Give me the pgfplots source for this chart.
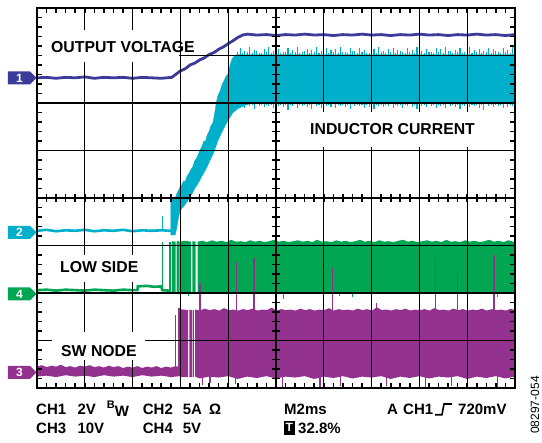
\documentclass[border=0pt]{standalone}
\usepackage{pgfplots}
\pgfplotsset{compat=1.18}
\usepackage{fontspec}
\setmainfont{Liberation Sans}
\definecolor{chone}{HTML}{3B3B9B}
\definecolor{chtwo}{HTML}{00AFC9}
\definecolor{chthree}{HTML}{93318F}
\definecolor{chfour}{HTML}{00A651}
\newcommand{\lf}{\fontsize{15.8bp}{18bp}\selectfont\bfseries}
\newcommand{\bt}{\fontsize{15bp}{17bp}\selectfont\bfseries}

\begin{document}
\begin{tikzpicture}
\path[use as bounding box] (-37bp,-55bp) rectangle (505bp,388bp);
\begin{axis}[
  at={(0,0)}, anchor=south west,
  scale only axis, width=478bp, height=380bp,
  xmin=0, xmax=10, ymin=0, ymax=8,
  xtick={0,...,10}, ytick={0,...,8},
  xticklabels={}, yticklabels={},
  major tick length=0pt,
  grid=major, major grid style={black, line width=1.3bp},
  axis line style={black, line width=2.2bp},
  axis on top, unbounded coords=jump,
]
% ---- CH2 inductor current
\addplot[chtwo, line width=2.6bp] coordinates {
(0,3.31)(0.2,3.33)(0.4,3.30)(0.6,3.32)(0.8,3.31)(1.0,3.33)(1.2,3.30)(1.4,3.32)
(1.6,3.31)(1.8,3.33)(2.0,3.30)(2.2,3.32)(2.4,3.31)(2.6,3.32)(2.80,3.31)};
\addplot[chtwo, line width=0.9bp] coordinates {(2.63,3.30)(2.63,3.62)};
\addplot[fill=chtwo, draw=chtwo, line width=0.4bp] coordinates {
(2.80,3.96)(2.87,3.98)(2.90,4.02)(2.94,4.12)(2.99,4.22)(3.03,4.28)(3.07,4.36)(3.10,4.34)
(3.14,4.46)(3.18,4.52)(3.22,4.60)(3.26,4.66)(3.30,4.78)(3.34,4.84)(3.38,4.93)(3.41,5.01)
(3.45,5.08)(3.49,5.20)(3.52,5.18)(3.56,5.32)(3.60,5.40)(3.64,5.52)(3.68,5.58)(3.72,5.80)
(3.76,6.05)(3.79,6.17)(3.83,6.25)(3.87,6.38)(3.91,6.46)(3.95,6.55)(4.00,6.62)(4.04,6.80)
(4.08,6.92)(4.12,6.98)(4.18,7.02)(10,7.02)
(10,6.00)(4.50,6.00)(4.35,5.95)(4.20,5.88)(4.10,5.80)(4.00,5.64)(3.95,5.55)(3.90,5.45)
(3.85,5.35)(3.79,5.22)(3.74,5.08)(3.68,4.92)(3.62,4.80)(3.56,4.66)(3.50,4.55)(3.45,4.46)
(3.41,4.38)(3.35,4.28)(3.30,4.20)(3.25,4.10)(3.20,4.02)(3.14,3.92)(3.08,3.84)(3.03,3.78)
(2.99,3.72)(2.96,3.60)(2.93,3.40)(2.89,3.22)(2.80,3.22)} -- cycle;
% upper noise spikes
\addplot[chtwo, line width=1.1bp] coordinates {
(4.20,7)(4.20,7.07)(4.20,nan)(4.25,7)(4.25,7.15)(4.25,nan)(4.30,7)(4.30,7.05)(4.30,nan)(4.35,7)(4.35,7.09)(4.35,nan)
(4.40,7)(4.40,7.08)(4.40,nan)(4.45,7)(4.45,7.17)(4.45,nan)(4.50,7)(4.50,7.06)(4.50,nan)(4.55,7)(4.55,7.12)(4.55,nan)
(4.60,7)(4.60,7.09)(4.60,nan)(4.65,7)(4.65,7.06)(4.65,nan)(4.70,7)(4.70,7.05)(4.70,nan)(4.75,7)(4.75,7.14)(4.75,nan)
(4.80,7)(4.80,7.07)(4.80,nan)(4.85,7)(4.85,7.18)(4.85,nan)(4.90,7)(4.90,7.06)(4.90,nan)(4.95,7)(4.95,7.10)(4.95,nan)
(5.00,7)(5.00,7.08)(5.00,nan)(5.05,7)(5.05,7.13)(5.05,nan)(5.10,7)(5.10,7.05)(5.10,nan)(5.15,7)(5.15,7.08)(5.15,nan)
(5.20,7)(5.20,7.07)(5.20,nan)(5.25,7)(5.25,7.16)(5.25,nan)(5.30,7)(5.30,7.05)(5.30,nan)(5.35,7)(5.35,7.11)(5.35,nan)
(5.40,7)(5.40,7.08)(5.40,nan)(5.45,7)(5.45,7.17)(5.45,nan)(5.50,7)(5.50,7.06)(5.50,nan)(5.55,7)(5.55,7.07)(5.55,nan)
(5.60,7)(5.60,7.09)(5.60,nan)(5.65,7)(5.65,7.14)(5.65,nan)(5.70,7)(5.70,7.05)(5.70,nan)(5.75,7)(5.75,7.12)(5.75,nan)
(5.80,7)(5.80,7.07)(5.80,nan)(5.85,7)(5.85,7.18)(5.85,nan)(5.90,7)(5.90,7.06)(5.90,nan)(5.95,7)(5.95,7.09)(5.95,nan)
(6.00,7)(6.00,7.08)(6.00,nan)(6.05,7)(6.05,7.15)(6.05,nan)(6.10,7)(6.10,7.05)(6.10,nan)(6.15,7)(6.15,7.11)(6.15,nan)
(6.20,7)(6.20,7.07)(6.20,nan)(6.25,7)(6.25,7.13)(6.25,nan)(6.30,7)(6.30,7.05)(6.30,nan)(6.35,7)(6.35,7.17)(6.35,nan)
(6.40,7)(6.40,7.08)(6.40,nan)(6.45,7)(6.45,7.08)(6.45,nan)(6.50,7)(6.50,7.06)(6.50,nan)(6.55,7)(6.55,7.15)(6.55,nan)
(6.60,7)(6.60,7.09)(6.60,nan)(6.65,7)(6.65,7.10)(6.65,nan)(6.70,7)(6.70,7.05)(6.70,nan)(6.75,7)(6.75,7.16)(6.75,nan)
(6.80,7)(6.80,7.07)(6.80,nan)(6.85,7)(6.85,7.12)(6.85,nan)(6.90,7)(6.90,7.06)(6.90,nan)(6.95,7)(6.95,7.06)(6.95,nan)
(7.00,7)(7.00,7.08)(7.00,nan)(7.05,7)(7.05,7.14)(7.05,nan)(7.10,7)(7.10,7.05)(7.10,nan)(7.15,7)(7.15,7.18)(7.15,nan)
(7.20,7)(7.20,7.07)(7.20,nan)(7.25,7)(7.25,7.09)(7.25,nan)(7.30,7)(7.30,7.05)(7.30,nan)(7.35,7)(7.35,7.13)(7.35,nan)
(7.40,7)(7.40,7.08)(7.40,nan)(7.45,7)(7.45,7.16)(7.45,nan)(7.50,7)(7.50,7.06)(7.50,nan)(7.55,7)(7.55,7.11)(7.55,nan)
(7.60,7)(7.60,7.09)(7.60,nan)(7.65,7)(7.65,7.07)(7.65,nan)(7.70,7)(7.70,7.05)(7.70,nan)(7.75,7)(7.75,7.15)(7.75,nan)
(7.80,7)(7.80,7.07)(7.80,nan)(7.85,7)(7.85,7.12)(7.85,nan)(7.90,7)(7.90,7.06)(7.90,nan)(7.95,7)(7.95,7.17)(7.95,nan)
(8.00,7)(8.00,7.08)(8.00,nan)(8.05,7)(8.05,7.10)(8.05,nan)(8.10,7)(8.10,7.05)(8.10,nan)(8.15,7)(8.15,7.14)(8.15,nan)
(8.20,7)(8.20,7.07)(8.20,nan)(8.25,7)(8.25,7.08)(8.25,nan)(8.30,7)(8.30,7.05)(8.30,nan)(8.35,7)(8.35,7.16)(8.35,nan)
(8.40,7)(8.40,7.08)(8.40,nan)(8.45,7)(8.45,7.13)(8.45,nan)(8.50,7)(8.50,7.06)(8.50,nan)(8.55,7)(8.55,7.18)(8.55,nan)
(8.60,7)(8.60,7.09)(8.60,nan)(8.65,7)(8.65,7.09)(8.65,nan)(8.70,7)(8.70,7.05)(8.70,nan)(8.75,7)(8.75,7.12)(8.75,nan)
(8.80,7)(8.80,7.07)(8.80,nan)(8.85,7)(8.85,7.15)(8.85,nan)(8.90,7)(8.90,7.06)(8.90,nan)(8.95,7)(8.95,7.07)(8.95,nan)
(9.00,7)(9.00,7.08)(9.00,nan)(9.05,7)(9.05,7.17)(9.05,nan)(9.10,7)(9.10,7.05)(9.10,nan)(9.15,7)(9.15,7.11)(9.15,nan)
(9.20,7)(9.20,7.07)(9.20,nan)(9.25,7)(9.25,7.14)(9.25,nan)(9.30,7)(9.30,7.05)(9.30,nan)(9.35,7)(9.35,7.10)(9.35,nan)
(9.40,7)(9.40,7.08)(9.40,nan)(9.45,7)(9.45,7.16)(9.45,nan)(9.50,7)(9.50,7.06)(9.50,nan)(9.55,7)(9.55,7.13)(9.55,nan)
(9.60,7)(9.60,7.09)(9.60,nan)(9.65,7)(9.65,7.08)(9.65,nan)(9.70,7)(9.70,7.05)(9.70,nan)(9.75,7)(9.75,7.15)(9.75,nan)
(9.80,7)(9.80,7.07)(9.80,nan)(9.85,7)(9.85,7.12)(9.85,nan)(9.90,7)(9.90,7.06)(9.90,nan)(9.95,7)(9.95,7.17)};
% lower noise spikes
\addplot[chtwo, line width=1.1bp] coordinates {
(4.30,6.02)(4.30,5.95)(4.30,nan)(4.35,6.02)(4.35,5.90)(4.35,nan)(4.40,6.02)(4.40,5.96)(4.40,nan)(4.45,6.02)(4.45,5.93)(4.45,nan)
(4.50,6.02)(4.50,5.95)(4.50,nan)(4.55,6.02)(4.55,5.88)(4.55,nan)(4.60,6.02)(4.60,5.97)(4.60,nan)(4.65,6.02)(4.65,5.94)(4.65,nan)
(4.70,6.02)(4.70,5.95)(4.70,nan)(4.75,6.02)(4.75,5.91)(4.75,nan)(4.80,6.02)(4.80,5.96)(4.80,nan)(4.85,6.02)(4.85,5.93)(4.85,nan)
(4.90,6.02)(4.90,5.95)(4.90,nan)(4.95,6.02)(4.95,5.89)(4.95,nan)(5.00,6.02)(5.00,5.97)(5.00,nan)(5.05,6.02)(5.05,5.93)(5.05,nan)
(5.10,6.02)(5.10,5.95)(5.10,nan)(5.15,6.02)(5.15,5.92)(5.15,nan)(5.20,6.02)(5.20,5.96)(5.20,nan)(5.25,6.02)(5.25,5.86)(5.25,nan)
(5.30,6.02)(5.30,5.95)(5.30,nan)(5.35,6.02)(5.35,5.94)(5.35,nan)(5.40,6.02)(5.40,5.97)(5.40,nan)(5.45,6.02)(5.45,5.90)(5.45,nan)
(5.50,6.02)(5.50,5.95)(5.50,nan)(5.55,6.02)(5.55,5.93)(5.55,nan)(5.60,6.02)(5.60,5.96)(5.60,nan)(5.65,6.02)(5.65,5.91)(5.65,nan)
(5.70,6.02)(5.70,5.95)(5.70,nan)(5.75,6.02)(5.75,5.88)(5.75,nan)(5.80,6.02)(5.80,5.97)(5.80,nan)(5.85,6.02)(5.85,5.93)(5.85,nan)
(5.90,6.02)(5.90,5.95)(5.90,nan)(5.95,6.02)(5.95,5.90)(5.95,nan)(6.00,6.02)(6.00,5.96)(6.00,nan)(6.05,6.02)(6.05,5.94)(6.05,nan)
(6.10,6.02)(6.10,5.95)(6.10,nan)(6.15,6.02)(6.15,5.92)(6.15,nan)(6.20,6.02)(6.20,5.97)(6.20,nan)(6.25,6.02)(6.25,5.89)(6.25,nan)
(6.30,6.02)(6.30,5.95)(6.30,nan)(6.35,6.02)(6.35,5.94)(6.35,nan)(6.40,6.02)(6.40,5.96)(6.40,nan)(6.45,6.02)(6.45,5.91)(6.45,nan)
(6.50,6.02)(6.50,5.95)(6.50,nan)(6.55,6.02)(6.55,5.87)(6.55,nan)(6.60,6.02)(6.60,5.97)(6.60,nan)(6.65,6.02)(6.65,5.93)(6.65,nan)
(6.70,6.02)(6.70,5.95)(6.70,nan)(6.75,6.02)(6.75,5.94)(6.75,nan)(6.80,6.02)(6.80,5.96)(6.80,nan)(6.85,6.02)(6.85,5.90)(6.85,nan)
(6.90,6.02)(6.90,5.95)(6.90,nan)(6.95,6.02)(6.95,5.92)(6.95,nan)(7.00,6.02)(7.00,5.97)(7.00,nan)(7.05,6.02)(7.05,5.88)(7.05,nan)
(7.10,6.02)(7.10,5.95)(7.10,nan)(7.15,6.02)(7.15,5.94)(7.15,nan)(7.20,6.02)(7.20,5.96)(7.20,nan)(7.25,6.02)(7.25,5.91)(7.25,nan)
(7.30,6.02)(7.30,5.95)(7.30,nan)(7.35,6.02)(7.35,5.93)(7.35,nan)(7.40,6.02)(7.40,5.97)(7.40,nan)(7.45,6.02)(7.45,5.89)(7.45,nan)
(7.50,6.02)(7.50,5.95)(7.50,nan)(7.55,6.02)(7.55,5.93)(7.55,nan)(7.60,6.02)(7.60,5.96)(7.60,nan)(7.65,6.02)(7.65,5.90)(7.65,nan)
(7.70,6.02)(7.70,5.95)(7.70,nan)(7.75,6.02)(7.75,5.94)(7.75,nan)(7.80,6.02)(7.80,5.97)(7.80,nan)(7.85,6.02)(7.85,5.92)(7.85,nan)
(7.90,6.02)(7.90,5.95)(7.90,nan)(7.95,6.02)(7.95,5.87)(7.95,nan)(8.00,6.02)(8.00,5.96)(8.00,nan)(8.05,6.02)(8.05,5.94)(8.05,nan)
(8.10,6.02)(8.10,5.95)(8.10,nan)(8.15,6.02)(8.15,5.91)(8.15,nan)(8.20,6.02)(8.20,5.97)(8.20,nan)(8.25,6.02)(8.25,5.93)(8.25,nan)
(8.30,6.02)(8.30,5.95)(8.30,nan)(8.35,6.02)(8.35,5.89)(8.35,nan)(8.40,6.02)(8.40,5.96)(8.40,nan)(8.45,6.02)(8.45,5.94)(8.45,nan)
(8.50,6.02)(8.50,5.95)(8.50,nan)(8.55,6.02)(8.55,5.90)(8.55,nan)(8.60,6.02)(8.60,5.97)(8.60,nan)(8.65,6.02)(8.65,5.94)(8.65,nan)
(8.70,6.02)(8.70,5.95)(8.70,nan)(8.75,6.02)(8.75,5.92)(8.75,nan)(8.80,6.02)(8.80,5.96)(8.80,nan)(8.85,6.02)(8.85,5.88)(8.85,nan)
(8.90,6.02)(8.90,5.95)(8.90,nan)(8.95,6.02)(8.95,5.93)(8.95,nan)(9.00,6.02)(9.00,5.97)(9.00,nan)(9.05,6.02)(9.05,5.91)(9.05,nan)
(9.10,6.02)(9.10,5.95)(9.10,nan)(9.15,6.02)(9.15,5.94)(9.15,nan)(9.20,6.02)(9.20,5.96)(9.20,nan)(9.25,6.02)(9.25,5.90)(9.25,nan)
(9.30,6.02)(9.30,5.95)(9.30,nan)(9.35,6.02)(9.35,5.86)(9.35,nan)(9.40,6.02)(9.40,5.97)(9.40,nan)(9.45,6.02)(9.45,5.93)(9.45,nan)
(9.50,6.02)(9.50,5.95)(9.50,nan)(9.55,6.02)(9.55,5.91)(9.55,nan)(9.60,6.02)(9.60,5.96)(9.60,nan)(9.65,6.02)(9.65,5.94)(9.65,nan)
(9.70,6.02)(9.70,5.95)(9.70,nan)(9.75,6.02)(9.75,5.89)(9.75,nan)(9.80,6.02)(9.80,5.97)(9.80,nan)(9.85,6.02)(9.85,5.92)(9.85,nan)
(9.90,6.02)(9.90,5.95)(9.90,nan)(9.95,6.02)(9.95,5.93)};
% ---- CH4 low side
\addplot[chfour, line width=2.6bp] coordinates {
(0,2.06)(0.2,2.07)(0.4,2.05)(0.6,2.07)(0.8,2.06)(1.0,2.05)(1.2,2.07)(1.4,2.06)(1.6,2.05)
(1.8,2.07)(2.0,2.06)(2.10,2.06)(2.11,2.14)(2.3,2.15)(2.45,2.13)(2.60,2.14)(2.62,2.06)(2.76,2.05)};
\addplot[chfour, line width=1bp] coordinates {(2.62,2.08)(2.62,3.08)};
\addplot[fill=chfour, draw=none] coordinates {(2.76,2.01)(2.76,3.08)(2.80,3.08)(2.80,2.01)} -- cycle;
\addplot[fill=chfour, draw=none] coordinates {(2.82,2.01)(2.82,3.09)(2.90,3.08)(2.90,2.01)} -- cycle;
\addplot[fill=chfour, draw=none] coordinates {(2.92,2.01)(2.92,3.08)(2.97,3.10)(2.97,2.01)} -- cycle;
\addplot[fill=chfour, draw=none] coordinates {(2.98,2.00)(2.98,3.08)(3.10,3.10)(3.22,3.08)(3.22,2.00)} -- cycle;
\addplot[fill=chfour, draw=none] coordinates {(3.25,2.00)(3.25,3.09)(3.32,3.08)(3.32,2.00)} -- cycle;
\addplot[fill=chfour, draw=none] coordinates {
(3.36,2.00)(3.36,3.08)(3.46,3.10)(3.56,3.07)(3.66,3.11)(3.76,3.08)(3.86,3.10)(3.96,3.07)(4.06,3.12)(4.16,3.08)
(4.26,3.09)(4.36,3.07)(4.46,3.11)(4.56,3.08)(4.66,3.10)(4.76,3.07)(4.86,3.09)(4.96,3.12)(5.06,3.08)(5.16,3.10)
(5.26,3.07)(5.36,3.09)(5.46,3.11)(5.56,3.08)(5.66,3.10)(5.76,3.07)(5.86,3.12)(5.96,3.08)(6.06,3.09)(6.16,3.07)
(6.26,3.11)(6.36,3.08)(6.46,3.10)(6.56,3.07)(6.66,3.09)(6.76,3.12)(6.86,3.08)(6.96,3.10)(7.06,3.07)(7.16,3.11)
(7.26,3.08)(7.36,3.09)(7.46,3.07)(7.56,3.10)(7.66,3.12)(7.76,3.08)(7.86,3.10)(7.96,3.07)(8.06,3.09)(8.16,3.11)
(8.26,3.08)(8.36,3.10)(8.46,3.07)(8.56,3.12)(8.66,3.08)(8.76,3.09)(8.86,3.07)(8.96,3.11)(9.06,3.08)(9.16,3.10)
(9.26,3.07)(9.36,3.09)(9.46,3.12)(9.56,3.08)(9.66,3.10)(9.76,3.07)(9.86,3.11)(9.96,3.08)(10.00,3.09)(10.00,2.00)} -- cycle;
\addplot[chfour, line width=1bp] coordinates {
(3.16,2.02)(3.16,1.94)(3.16,nan)(5.15,2.02)(5.15,1.87)(5.15,nan)(6.32,2.02)(6.32,1.94)(6.32,nan)
(6.59,2.02)(6.59,1.92)(6.59,nan)(9.64,2.02)(9.64,1.92)};
% ---- CH3 switch node
\addplot[fill=chthree, draw=none] coordinates {
(0.0,0.45)(0.1,0.48)(0.2,0.44)(0.3,0.47)(0.4,0.45)(0.5,0.49)(0.6,0.44)(0.7,0.46)(0.8,0.43)(0.9,0.47)
(1.0,0.45)(1.1,0.48)(1.2,0.44)(1.3,0.46)(1.4,0.43)(1.5,0.47)(1.6,0.44)(1.7,0.46)(1.8,0.42)(1.9,0.45)
(2.0,0.43)(2.1,0.46)(2.2,0.42)(2.3,0.45)(2.4,0.43)(2.5,0.46)(2.6,0.42)(2.7,0.45)(2.8,0.43)(2.9,0.46)(2.99,0.44)
(2.99,0.25)(2.8,0.23)(2.6,0.26)(2.4,0.24)(2.2,0.27)(2.0,0.23)(1.8,0.26)(1.6,0.24)(1.4,0.27)(1.2,0.23)
(1.0,0.26)(0.8,0.24)(0.6,0.27)(0.4,0.23)(0.2,0.26)(0.0,0.24)} -- cycle;
\addplot[chthree, line width=1.2bp] coordinates {(2.90,0.44)(2.90,1.54)(2.90,nan)(2.97,0.44)(2.97,1.68)};
\addplot[fill=chthree, draw=none] coordinates {(2.99,0.23)(2.99,1.66)(3.16,1.64)(3.16,0.23)} -- cycle;
\addplot[fill=chthree, draw=none] coordinates {(3.19,0.23)(3.19,1.65)(3.25,1.64)(3.25,0.23)} -- cycle;
\addplot[fill=chthree, draw=none] coordinates {(3.27,0.23)(3.27,1.64)(3.29,1.64)(3.29,0.23)} -- cycle;
\addplot[fill=chthree, draw=none] coordinates {
(3.31,1.65)(3.41,1.63)(3.51,1.67)(3.61,1.64)(3.71,1.66)(3.81,1.63)(3.91,1.68)(4.01,1.64)(4.11,1.65)(4.21,1.63)
(4.31,1.66)(4.41,1.64)(4.51,1.67)(4.61,1.63)(4.71,1.65)(4.81,1.64)(4.91,1.69)(5.01,1.63)(5.11,1.66)(5.21,1.64)
(5.31,1.65)(5.41,1.63)(5.51,1.67)(5.61,1.64)(5.71,1.66)(5.81,1.63)(5.91,1.65)(6.01,1.64)(6.11,1.68)(6.21,1.63)
(6.31,1.66)(6.41,1.64)(6.51,1.65)(6.61,1.63)(6.71,1.67)(6.81,1.64)(6.91,1.66)(7.01,1.63)(7.11,1.70)(7.21,1.64)
(7.31,1.65)(7.41,1.63)(7.51,1.66)(7.61,1.64)(7.71,1.67)(7.81,1.63)(7.91,1.65)(8.01,1.64)(8.11,1.66)(8.21,1.63)
(8.31,1.68)(8.41,1.64)(8.51,1.65)(8.61,1.63)(8.71,1.67)(8.81,1.64)(8.91,1.66)(9.01,1.63)(9.11,1.65)(9.21,1.64)
(9.31,1.67)(9.41,1.63)(9.51,1.66)(9.61,1.64)(9.71,1.65)(9.81,1.63)(9.91,1.67)(10,1.64)
(10,0.24)(9.8,0.20)(9.6,0.25)(9.4,0.21)(9.2,0.24)(9.0,0.19)(8.8,0.25)(8.6,0.22)(8.4,0.24)(8.2,0.20)
(8.0,0.25)(7.8,0.21)(7.6,0.24)(7.4,0.19)(7.2,0.25)(7.0,0.22)(6.8,0.24)(6.6,0.20)(6.4,0.25)(6.2,0.21)
(6.0,0.24)(5.8,0.19)(5.6,0.25)(5.4,0.22)(5.2,0.24)(5.0,0.20)(4.8,0.25)(4.6,0.21)(4.4,0.24)(4.2,0.19)
(4.0,0.25)(3.8,0.22)(3.6,0.24)(3.4,0.20)(3.31,0.24)} -- cycle;
\addplot[chthree, line width=1.1bp] coordinates {
(3.41,1.6)(3.41,2.21)(3.41,nan)(4.18,1.6)(4.18,2.65)(4.18,nan)(4.54,1.6)(4.54,2.74)(4.54,nan)
(6.19,1.6)(6.19,2.53)(6.19,nan)(7.11,1.6)(7.11,1.79)(7.11,nan)(8.33,1.6)(8.33,2.74)(8.33,nan)
(8.79,1.6)(8.79,2.42)(8.79,nan)(9.56,1.6)(9.56,2.80)};
\addplot[chthree, line width=1.1bp] coordinates {
(3.47,0.25)(3.47,0.06)(3.47,nan)(3.62,0.25)(3.62,0.10)(3.62,nan)(4.16,0.25)(4.16,0.08)(4.16,nan)
(5.13,0.25)(5.13,0.0)(5.13,nan)(5.92,0.25)(5.92,0.02)(5.92,nan)(6.34,0.25)(6.34,0.04)(6.34,nan)
(7.32,0.25)(7.32,0.05)(7.32,nan)(8.12,0.25)(8.12,0.03)(8.12,nan)(8.68,0.25)(8.68,0.05)(8.68,nan)
(9.64,0.25)(9.64,0.02)};
% ---- CH1 output voltage
\addplot[chone, line width=2.8bp] coordinates {
(0,6.53)(0.2,6.54)(0.4,6.52)(0.6,6.54)(0.8,6.53)(1.0,6.55)(1.2,6.52)(1.4,6.54)(1.6,6.53)(1.8,6.54)
(2.0,6.52)(2.2,6.54)(2.4,6.53)(2.6,6.52)(2.82,6.54)(2.9,6.60)(2.99,6.67)(3.1,6.72)(3.2,6.80)(3.3,6.84)
(3.41,6.91)(3.5,6.95)(3.6,7.02)(3.7,7.06)(3.8,7.13)(3.9,7.18)(4.0,7.25)(4.1,7.31)(4.2,7.38)(4.3,7.43)
(4.4,7.45)(4.6,7.43)(4.8,7.44)(5.0,7.42)(5.2,7.44)(5.4,7.43)(5.6,7.45)(5.8,7.43)(6.0,7.44)(6.2,7.42)
(6.4,7.44)(6.6,7.43)(6.8,7.45)(7.0,7.43)(7.2,7.44)(7.4,7.42)(7.6,7.44)(7.8,7.43)(8.0,7.45)(8.2,7.43)
(8.4,7.44)(8.6,7.42)(8.8,7.44)(9.0,7.43)(9.2,7.45)(9.4,7.43)(9.6,7.44)(9.8,7.42)(10,7.44)};
\end{axis}
% graticule minor ticks drawn as dashed strips (0.2 division pitch)
\begin{scope}[black]
\draw[line width=5bp, dash pattern=on 1.6bp off 7.96bp, dash phase=0.8bp] (0bp,377.5bp) -- (478bp,377.5bp);
\draw[line width=5bp, dash pattern=on 1.6bp off 7.96bp, dash phase=0.8bp] (0bp,2.5bp) -- (478bp,2.5bp);
\draw[line width=8bp, dash pattern=on 1.6bp off 7.96bp, dash phase=0.8bp] (0bp,190bp) -- (478bp,190bp);
\draw[line width=5bp, dash pattern=on 1.6bp off 7.9bp, dash phase=0.8bp] (2.5bp,0bp) -- (2.5bp,380bp);
\draw[line width=5bp, dash pattern=on 1.6bp off 7.9bp, dash phase=0.8bp] (475.5bp,0bp) -- (475.5bp,380bp);
\draw[line width=8bp, dash pattern=on 1.6bp off 7.9bp, dash phase=0.8bp] (239bp,0bp) -- (239bp,380bp);
\end{scope}
% trace labels
\fill[white] (5bp,326bp) rectangle (142bp,358bp);
\node[anchor=base west, inner sep=0pt] at (14bp,335bp) {\lf OUTPUT VOLTAGE};
\fill[white] (259bp,241bp) rectangle (453bp,276bp);
\node[anchor=base west, inner sep=0pt] at (273bp,253bp) {\lf INDUCTOR CURRENT};
\fill[white] (11bp,106bp) rectangle (113bp,133bp);
\node[anchor=base west, inner sep=0pt] at (23bp,115bp) {\lf LOW SIDE};
\fill[white] (15bp,28bp) rectangle (108bp,56bp);
\node[anchor=base west, inner sep=0pt] at (24bp,32bp) {\lf SW NODE};
% channel markers
\foreach \yy/\cc/\nn in {310/chone/1, 155.5/chtwo/2, 94/chfour/4, 15.5/chthree/3} {
  \fill[\cc] (-29bp,\yy bp-6.5bp) -- (-7bp,\yy bp-6.5bp) -- (-0.5bp,\yy bp) -- (-7bp,\yy bp+6.5bp) -- (-29bp,\yy bp+6.5bp) -- cycle;
  \node[text=white, inner sep=0pt, font=\fontsize{12bp}{13bp}\selectfont\bfseries] at (-17.5bp,\yy bp) {\nn};
}
% scope settings
\node[anchor=base west, inner sep=0pt] at (-1bp,-26.7bp) {\bt CH1};
\node[anchor=base west, inner sep=0pt] at (40.3bp,-26.7bp) {\bt 2V};
\node[anchor=base west, inner sep=0pt] at (69.7bp,-26.7bp) {\bt\raisebox{6bp}{\fontsize{11bp}{12bp}\selectfont B}\raisebox{-2bp}{W}};
\node[anchor=base west, inner sep=0pt] at (105.7bp,-26.7bp) {\bt CH2};
\node[anchor=base west, inner sep=0pt] at (145.7bp,-26.7bp) {\bt 5A};
\node[anchor=base west, inner sep=0pt] at (172bp,-26.7bp) {\bt Ω};
\node[anchor=base west, inner sep=0pt] at (247bp,-26.7bp) {\bt M2ms};
\node[anchor=base west, inner sep=0pt] at (350bp,-26.7bp) {\bt A};
\node[anchor=base west, inner sep=0pt] at (366bp,-26.7bp) {\bt CH1};
\draw[line width=1.6bp] (398bp,-26.7bp) -- (405bp,-26.7bp) -- (407bp,-16bp) -- (415bp,-16bp);
\node[anchor=base west, inner sep=0pt] at (421bp,-26.7bp) {\bt 720mV};
\node[anchor=base west, inner sep=0pt] at (-1bp,-45.7bp) {\bt CH3};
\node[anchor=base west, inner sep=0pt] at (40.3bp,-45.7bp) {\bt 10V};
\node[anchor=base west, inner sep=0pt] at (105.7bp,-45.7bp) {\bt CH4};
\node[anchor=base west, inner sep=0pt] at (145.7bp,-45.7bp) {\bt 5V};
\fill[black] (247bp,-46.5bp) rectangle (257.5bp,-33bp);
\node[text=white, inner sep=0pt, font=\fontsize{12bp}{13bp}\selectfont\bfseries] at (252.2bp,-39.8bp) {T};
\node[anchor=base west, inner sep=0pt] at (261bp,-45.7bp) {\bt 32.8\%};
\node[rotate=90, inner sep=0pt, font=\fontsize{12bp}{14bp}\selectfont] at (498bp,-17bp) {08297-054};
\end{tikzpicture}
\end{document}
